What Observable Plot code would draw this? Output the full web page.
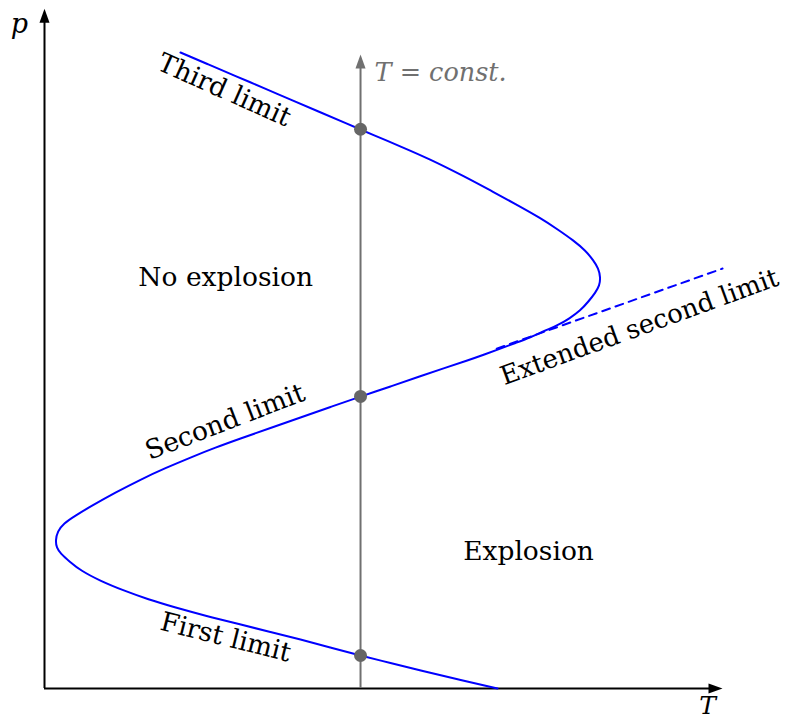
<!DOCTYPE html>
<html>
<head>
<meta charset="utf-8">
<script src="https://cdn.jsdelivr.net/npm/d3@7"></script>
<script src="https://cdn.jsdelivr.net/npm/@observablehq/plot@0.6"></script>
<style>
  body { margin: 0; background: #fff; }
</style>
</head>
<body>
<div id="chart"></div>
<script>
// Explosion limits: the S-shaped boundary, traced from the third limit
// (top) through the second limit down to the first limit (bottom).
const curveT = [
  20.12, 24.26, 28.25, 32.40, 36.39, 40.53, 44.67, 48.67, 52.81, 56.80,
  62.28, 65.98, 69.67, 73.37, 76.04, 78.25, 80.03, 81.21, 81.95, 82.25,
  82.10, 81.51, 80.47, 79.29, 77.66, 75.89, 73.96, 71.89, 69.67, 67.46,
  65.09, 62.57, 59.17, 55.62, 51.18, 46.75, 42.31, 37.87, 33.43, 28.99,
  25.30, 21.60, 17.90, 14.20, 10.50, 6.80, 4.59, 2.81, 1.92, 1.63,
  1.78, 2.37, 3.70, 5.33, 8.28, 11.69, 15.38, 19.08, 23.96, 28.99,
  33.43, 37.87, 42.31, 46.75, 51.18, 55.62, 61.24, 67.01
];
const curveP = [
  94.50, 92.72, 91.01, 89.24, 87.52, 85.74, 83.95, 82.24, 80.48, 78.75,
  76.00, 74.00, 71.99, 69.91, 68.13, 66.57, 65.08, 63.60, 62.41, 61.07,
  59.88, 58.84, 57.50, 56.17, 54.98, 53.94, 53.16, 52.16, 51.34, 50.52,
  49.63, 48.74, 47.62, 46.43, 44.87, 43.39, 41.83, 40.27, 38.71, 37.15,
  35.81, 34.33, 32.76, 31.05, 29.12, 27.04, 25.71, 24.52, 23.33, 21.99,
  20.95, 20.06, 18.87, 17.53, 15.97, 14.56, 13.22, 12.11, 10.77, 9.51,
  8.40, 7.28, 6.09, 4.90, 3.79, 2.67, 1.34, 0.00
];

// Straight continuation of the second limit
const extendedT = [66.9, 100.3];
const extendedP = [50.5, 62.4];

// Isotherm and the pressures where it crosses the three limits
const isothermT = 46.75;
const isothermTop = 94.2;
const crossingP = [83.1, 43.4, 4.9];

// Axis extents
const axisTmax = 100.3;
const axisPmax = 101.0;

const limit = curveT.map((T, i) => ({T, p: curveP[i]}));
const extended = extendedT.map((T, i) => ({T, p: extendedP[i]}));
const crossings = crossingP.map(p => ({T: isothermT, p}));

// Filled arrow head, tip at the origin, pointing up
const arrowHead = {
  draw(ctx, size) {
    const s = Math.sqrt(size / Math.PI);
    ctx.moveTo(0, 0);
    ctx.lineTo(-0.36 * s, s);
    ctx.lineTo(0.36 * s, s);
    ctx.closePath();
  }
};

const serif = "DejaVu Serif";
const fs = 26.5;

const chart = Plot.plot({
  width: 786,
  height: 720,
  margin: 0,
  x: {domain: [0, 100], range: [44, 720], axis: null},
  y: {domain: [0, 100], range: [688, 15], axis: null},
  marks: [
    // axes
    Plot.ruleX([0], {y1: 0, y2: axisPmax - 1.5, stroke: "#000", strokeWidth: 2}),
    Plot.ruleY([0], {x1: 0, x2: axisTmax - 1.5, stroke: "#000", strokeWidth: 2}),
    Plot.dot([{T: 0, p: axisPmax}], {x: "T", y: "p", symbol: arrowHead, r: 14, fill: "#000", stroke: null}),
    Plot.dot([{T: axisTmax, p: 0}], {x: "T", y: "p", symbol: arrowHead, r: 14, fill: "#000", stroke: null, rotate: 90}),
    Plot.text(["p"], {x: 0, y: axisPmax, dx: -25, dy: 16, fontFamily: serif, fontStyle: "italic", fontSize: 27, fill: "#000"}),
    Plot.text(["T"], {x: axisTmax, y: 0, dx: -15, dy: 17, fontFamily: serif, fontStyle: "italic", fontSize: 25, fill: "#000"}),

    // isotherm
    Plot.ruleX([isothermT], {y1: 0, y2: isothermTop - 1.5, stroke: "#707070", strokeWidth: 2}),
    Plot.dot([{T: isothermT, p: isothermTop}], {x: "T", y: "p", symbol: arrowHead, r: 14, fill: "#707070", stroke: null}),
    Plot.text(["T = const."], {x: isothermT, y: isothermTop, dx: 14, dy: 18, textAnchor: "start", fontFamily: serif, fontStyle: "italic", fontSize: 25.5, fill: "#707070", letterSpacing: "2px"}),

    // explosion limits
    Plot.line(extended, {x: "T", y: "p", stroke: "#0000ff", strokeWidth: 2, strokeDasharray: "8,6"}),
    Plot.line(limit, {x: "T", y: "p", curve: "basis", stroke: "#0000ff", strokeWidth: 2}),
    Plot.dot(crossings, {x: "T", y: "p", r: 6.5, fill: "#666", stroke: null}),

    // region and limit labels
    Plot.text(["No explosion"], {x: 26.8, y: 61.0, fontFamily: serif, fontSize: fs, fill: "#000"}),
    Plot.text(["Explosion"], {x: 71.6, y: 20.4, fontFamily: serif, fontSize: fs, fill: "#000"}),
    Plot.text(["Third limit"], {x: 26.6, y: 88.9, rotate: 24, fontFamily: serif, fontSize: fs, fill: "#000"}),
    Plot.text(["Second limit"], {x: 26.7, y: 39.6, rotate: -21, fontFamily: serif, fontSize: fs, fill: "#000"}),
    Plot.text(["First limit"], {x: 26.8, y: 7.6, rotate: 14, fontFamily: serif, fontSize: fs, fill: "#000"}),
    Plot.text(["Extended second limit"], {x: 88.0, y: 53.7, rotate: -20, fontFamily: serif, fontSize: 26, fill: "#000"})
  ]
});

document.getElementById("chart").append(chart);
</script>
</body>
</html>
